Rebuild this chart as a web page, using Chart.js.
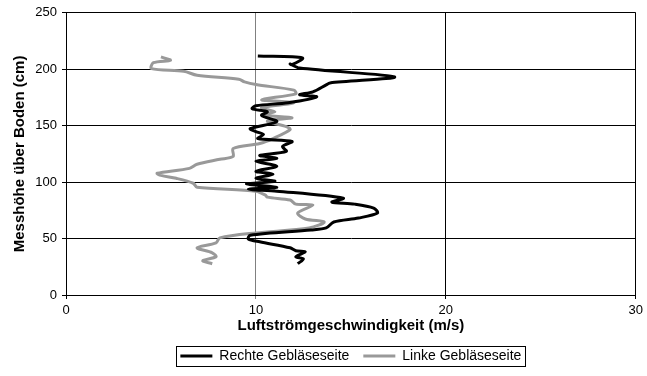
<!DOCTYPE html>
<html>
<head>
<meta charset="utf-8">
<script src="https://cdn.jsdelivr.net/npm/chart.js@4/dist/chart.umd.min.js"></script>
<style>
  html, body { margin: 0; padding: 0; background: #fff; }
  #wrap { width: 647px; height: 376px; }
</style>
</head>
<body>
<div id="wrap"><canvas id="c" width="647" height="376"></canvas></div>
<script>
// Vertical air-speed profiles: speed (m/s) against measuring height (cm)
const seriesNames = ['Rechte Gebläseseite', 'Linke Gebläseseite'];

const rechteSpeed = [10.1, 12.45, 11.9, 11.8, 12.3, 17.3, 13.9, 13.7, 13.0, 12.3, 13.2, 11.7, 10.0, 9.8, 10.6, 10.3, 11.1, 9.7, 10.0, 10.4, 10.1, 11.9, 11.4, 11.6, 10.2, 11.1, 10.0, 11.1, 10.0, 10.9, 10.0, 11.0, 9.5, 11.1, 9.6, 11.1, 14.6, 14.0, 15.2, 16.2, 16.4, 15.4, 14.1, 13.7, 12.9, 9.7, 9.6, 10.2, 11.8, 12.1, 12.6, 12.1, 12.5, 12.2];
const rechteHeight = [211.7, 210, 204, 204.7, 201, 193.2, 187.9, 186.2, 180, 177.4, 175.6, 170.3, 167.7, 165, 162.4, 159, 153.6, 147.4, 144.8, 142.2, 138.6, 136, 131.6, 127.2, 123.7, 121, 118.4, 114, 109.6, 106.9, 103.4, 100.8, 98.2, 95.5, 93.8, 92, 85.8, 82.3, 80.5, 77, 72.6, 68.2, 64.7, 59.4, 57.6, 53, 49.7, 47.1, 41.8, 39.2, 38.3, 33.9, 32, 27.7];

const linkeSpeed = [5.0, 5.5, 4.6, 4.5, 6.2, 6.9, 9.1, 9.4, 10.0, 12.0, 12.1, 10.3, 12.0, 10.3, 11.0, 10.3, 11.9, 10.6, 11.6, 11.8, 10.9, 10.2, 8.8, 8.8, 8.1, 6.9, 6.5, 4.8, 5.0, 5.8, 6.7, 6.9, 10.0, 10.5, 10.6, 11.8, 12.1, 13.0, 12.2, 12.6, 13.6, 12.8, 10.0, 8.1, 7.9, 6.9, 7.7, 7.9, 7.2, 7.7];
const linkeHeight = [210.9, 207.9, 205.8, 200.5, 198.2, 194.7, 191.2, 188.8, 186.4, 181.5, 178.2, 173, 170.3, 165.9, 162.4, 159.5, 157, 154, 149.2, 146.5, 138.6, 134.2, 129.8, 122.8, 120.2, 115.8, 112.2, 107.8, 106, 103.4, 99, 95.5, 92, 88.5, 86.7, 84.1, 80.5, 79.6, 72.6, 67.3, 64.7, 59.4, 55, 50.6, 46.2, 41.8, 37.4, 33.9, 30.4, 27.7];

const xTicks = [0, 10, 20, 30];
const yTicks = [0, 50, 100, 150, 200, 250];

function toPoints(xs, ys) {
  return xs.map((x, i) => ({ x: x, y: ys[i] }));
}

const FONT = "'Liberation Sans', Arial, sans-serif";

// Thin frame around the legend entries
const legendFrame = {
  id: 'legendFrame',
  afterDraw(chart) {
    const lg = chart.legend;
    if (!lg || !lg.legendHitBoxes || !lg.legendHitBoxes.length) return;
    const boxes = lg.legendHitBoxes;
    let l = Infinity, r = -Infinity, t = Infinity, b = -Infinity;
    boxes.forEach(h => {
      l = Math.min(l, h.left); r = Math.max(r, h.left + h.width);
      t = Math.min(t, h.top); b = Math.max(b, h.top + h.height);
    });
    const ctx = chart.ctx;
    ctx.save();
    ctx.strokeStyle = '#000';
    ctx.lineWidth = 1;
    const x0 = Math.round(l - 4), x1 = Math.round(r + 4);
    const y0 = Math.round(t - 3), y1 = Math.round(b + 3);
    ctx.strokeRect(x0 + 0.5, y0 + 0.5, x1 - x0, y1 - y0);
    ctx.restore();
  }
};

new Chart(document.getElementById('c'), {
  type: 'scatter',
  data: {
    datasets: [
      {
        label: seriesNames[0],
        data: toPoints(rechteSpeed, rechteHeight),
        showLine: true,
        borderColor: '#000000',
        backgroundColor: '#000000',
        borderWidth: 3,
        pointRadius: 0,
        tension: 0.3
      },
      {
        label: seriesNames[1],
        data: toPoints(linkeSpeed, linkeHeight),
        showLine: true,
        borderColor: '#999999',
        backgroundColor: '#999999',
        borderWidth: 3,
        pointRadius: 0,
        tension: 0.3
      }
    ]
  },
  options: {
    responsive: false,
    animation: false,
    events: [],
    layout: { padding: { left: 11, right: 10, top: 8, bottom: 3 } },
    plugins: {
      tooltip: { enabled: false },
      legend: {
        position: 'bottom',
        fullSize: false,
        labels: {
          color: '#000',
          font: { family: FONT, size: 14 },
          boxWidth: 32,
          boxHeight: 3,
          padding: 14,
          generateLabels: chart => Chart.defaults.plugins.legend.labels.generateLabels(chart)
            .map(item => Object.assign(item, { lineWidth: 0 }))
        }
      }
    },
    scales: {
      x: {
        type: 'linear',
        min: 0,
        max: 30,
        afterBuildTicks: s => { s.ticks = xTicks.map(v => ({ value: v })); },
        afterFit: s => { s.height = 40; },
        ticks: { color: '#000', font: { family: FONT, size: 13 }, padding: 4, maxRotation: 0 },
        grid: {
          color: c => (c.tick && c.tick.value === 10) ? '#808080' : '#000000',
          lineWidth: 1,
          tickLength: 4
        },
        border: { color: '#000', width: 1 },
        title: {
          display: true,
          text: 'Luftströmgeschwindigkeit (m/s)',
          color: '#000',
          font: { family: FONT, size: 15, weight: 'bold' },
          padding: { top: 0, bottom: 0 }
        }
      },
      y: {
        type: 'linear',
        min: 0,
        max: 250,
        afterBuildTicks: s => { s.ticks = yTicks.map(v => ({ value: v })); },
        afterFit: s => { s.width = 55; },
        ticks: { color: '#000', font: { family: FONT, size: 13 }, padding: 5 },
        grid: { color: '#000000', lineWidth: 1, tickLength: 4 },
        border: { color: '#000', width: 1 },
        title: {
          display: true,
          text: 'Messhöhe über Boden (cm)',
          color: '#000',
          font: { family: FONT, size: 15, weight: 'bold' },
          padding: { top: 0, bottom: 0 }
        }
      }
    }
  },
  plugins: [legendFrame]
});
</script>
</body>
</html>
